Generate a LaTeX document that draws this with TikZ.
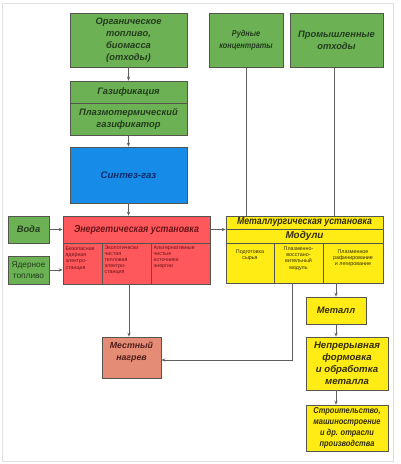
\documentclass[tikz,border=0pt]{standalone}
\usepackage{fontspec}
\setmainfont{Liberation Sans}
\newfontfamily\etroite{Liberation Sans}[FakeStretch=0.86]
\usetikzlibrary{arrows.meta}
\definecolor{vertclair}{RGB}{108,178,84}
\definecolor{textevert}{RGB}{35,60,30}
\definecolor{bleuvif}{RGB}{22,140,232}
\definecolor{textebleu}{RGB}{15,45,110}
\definecolor{rougevif}{RGB}{255,88,92}
\definecolor{texterouge}{RGB}{105,20,25}
\definecolor{jaunevif}{RGB}{255,236,20}
\definecolor{textejaune}{RGB}{50,45,10}
\definecolor{saumonclair}{RGB}{228,140,118}
\definecolor{textesaumon}{RGB}{80,30,25}
\definecolor{bordure}{RGB}{85,85,80}
\definecolor{trait}{RGB}{95,95,95}
\begin{document}
\begin{tikzpicture}[
    x=0.75pt, y=-0.75pt, % une unité = un pixel de l'image
    taille/.style 2 args={minimum width=#1*0.75pt, minimum height=#2*0.75pt},
    corps/.style={font=\fontsize{#1}{9}\selectfont\bfseries\itshape},
    serre/.style={font=\etroite\fontsize{#1}{9}\selectfont\bfseries\itshape},
    boite/.style={draw=bordure, line width=0.5pt, inner sep=0pt, align=center, corps=7},
    vert/.style={boite, fill=vertclair, text=textevert},
    bleu/.style={boite, fill=bleuvif, text=textebleu},
    rouge/.style={boite, fill=rougevif, text=texterouge},
    jaune/.style={boite, fill=jaunevif, text=textejaune},
    saumon/.style={boite, fill=saumonclair, text=textesaumon},
    petit/.style={inner sep=0pt, font=\fontsize{4}{4.6}\selectfont},
    fleche/.style={draw=trait, line width=0.5pt, -{Stealth[length=3pt,width=2.4pt]}},
    lien/.style={draw=trait, line width=0.5pt}
]
\useasboundingbox (0,0) rectangle (400,464);
\draw[gray!25, line width=0.6pt] (2,3) rectangle (393,461);

% Colonne de gauche
\node[vert, taille={117}{54}] (organique) at (128.5,40) {Органическое\\топливо,\\биомасса\\(отходы)};
\node[vert, taille={117}{22}] (gazif) at (128.5,92) {Газификация};
\node[vert, taille={117}{32}] (plasma) at (128.5,119) {Плазмотермический\\газификатор};
\node[bleu, taille={117}{56}, corps=7.2] (synthese) at (128.5,175) {Синтез-газ};

% Installation énergétique
\node[rouge, taille={147}{27}, serre=7.7] (energie) at (136.5,229.5) {Энергетическая установка};
\node[rouge, taille={39}{41}] (ec1) at (82.5,263.5) {};
\node[rouge, taille={49}{41}] (ec2) at (126.5,263.5) {};
\node[rouge, taille={59}{41}] (ec3) at (180.5,263.5) {};
\node[petit, text=texterouge, align=left, anchor=north west] (tec1) at ([xshift=2pt,yshift=-3pt]ec1.north west) {Безопасная\\ядерная\\электро-\\станция};
\node[petit, text=texterouge, align=left, anchor=north west] (tec2) at ([xshift=2pt,yshift=-2pt]ec2.north west) {Экологически\\чистая\\тепловая\\электро-\\станция};
\node[petit, text=texterouge, align=left, anchor=north west] (tec3) at ([xshift=2pt,yshift=-2pt]ec3.north west) {Альтернативные\\чистые\\источники\\энергии};

\node[vert, taille={41}{27}] (eau) at (28.5,229.5) {Вода};
\node[vert, taille={41}{28}, font=\fontsize{6.2}{8}\selectfont] (nucleaire) at (28.5,270) {Ядерное\\топливо};

% Colonne de droite
\node[vert, taille={74}{54}, serre=6.4] (minerai) at (246,40) {Рудные\\концентраты};
\node[vert, taille={93}{54}] (dechets) at (336.5,40) {Промышленные\\отходы};

\node[jaune, taille={157}{13}, serre=7.6] (metallurgie) at (304.5,222.5) {Металлургическая установка};
\node[jaune, taille={157}{14}, corps=7.4] (modules) at (304.5,236) {Модули};
\node[jaune, taille={48}{40}] (mc1) at (250,263) {};
\node[jaune, taille={49}{40}] (mc2) at (298.5,263) {};
\node[jaune, taille={60}{40}] (mc3) at (353,263) {};
\node[petit, text=textejaune, align=center, anchor=north] (tmc1) at ([yshift=-5pt]mc1.north) {Подготовка\\сырья};
\node[petit, text=textejaune, align=center, anchor=north] (tmc2) at ([yshift=-3pt]mc2.north) {Плазменно-\\восстано-\\вительный\\модуль};
\node[petit, text=textejaune, align=center, anchor=north] (tmc3) at ([yshift=-5pt]mc3.north) {Плазменное\\рафинирование\\и легирование};

\node[jaune, taille={60}{27}] (metal) at (336,310.5) {Металл};
\node[jaune, taille={82}{53}, corps=7.2] (formage) at (347,363.5) {Непрерывная\\формовка\\и обработка\\металла};
\node[jaune, taille={82}{46}, font=\etroite\fontsize{6.5}{8.4}\selectfont\bfseries\itshape] (industrie) at (347,428) {Строительство,\\машиностроение\\и др. отрасли\\производства};

\node[saumon, taille={59}{41}] (chauffage) at (131.5,357.5) {};
\node[inner sep=0pt, align=center, anchor=north, text=textesaumon, corps=6.6] (tchauffage) at ([yshift=-3.5pt]chauffage.north) {Местный\\нагрев};

% Liaisons
\coordinate (coude) at (292,360);
\draw[fleche] (organique) -- (gazif);
\draw[fleche] (plasma) -- (synthese);
\draw[fleche] (synthese) -- (energie.north -| synthese);
\draw[fleche] (eau) -- (energie);
\draw[fleche] (nucleaire.east) -- (nucleaire.east -| ec1.west);
\draw[fleche] (energie.east) -- (energie.east -| modules.west);
\draw[lien] (minerai) -- (minerai |- metallurgie.north);
\draw[lien] (dechets.south -| 334,0) -- (metallurgie.north -| 334,0);
\draw[fleche] (ec2.south -| 129,0) -- (chauffage.north -| 129,0);
\draw[fleche] (mc2.south -| coude) -- (coude) -- (coude -| chauffage.east);
\draw[fleche] (mc3.south -| metal) -- (metal);
\draw[fleche] (metal) -- (metal |- formage.north);
\draw[fleche] (metal |- formage.south) -- (metal |- industrie.north);
\end{tikzpicture}
\end{document}
